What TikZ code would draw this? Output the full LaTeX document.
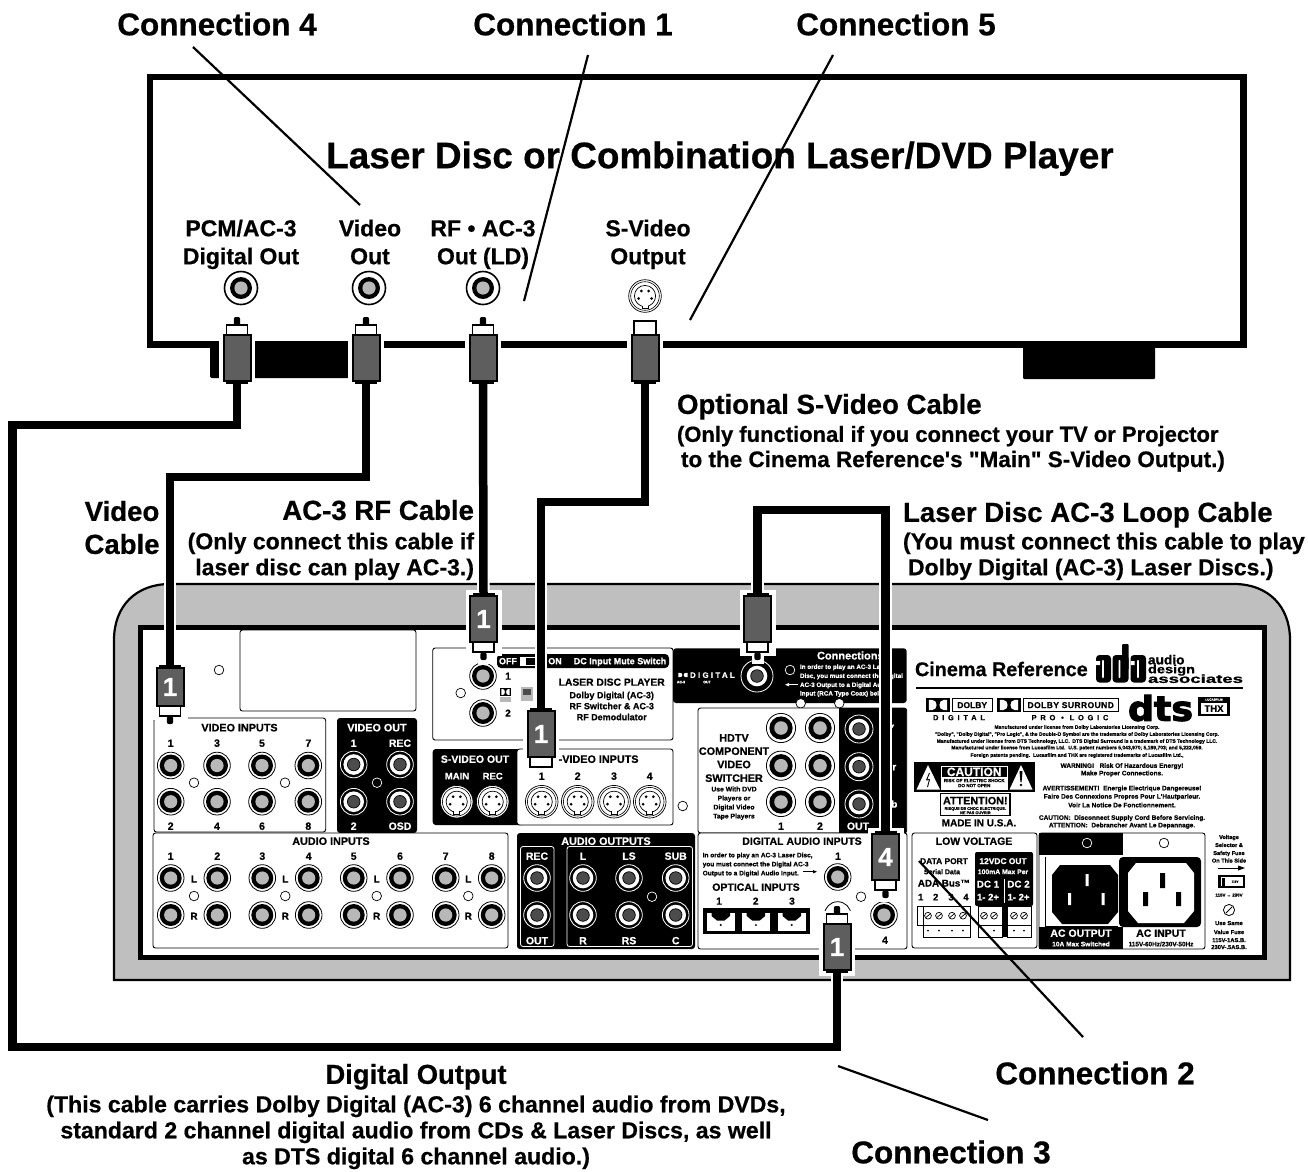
\documentclass[tikz,border=0pt]{standalone}
\usepackage{fontspec}
\usepackage{graphicx}
\setmainfont{Liberation Sans}
\newfontfamily\lib{Liberation Sans}[BoldFeatures={FakeBold=0.6}]
\newfontfamily\djv{DejaVu Sans}[FakeBold=3]
\newfontfamily\libfat{Liberation Sans Bold}[FakeBold=1]
\usetikzlibrary{calc}
\definecolor{jg}{gray}{0.72}
\definecolor{dg}{gray}{0.3}
\definecolor{pb}{gray}{0.37}
\definecolor{pg}{gray}{0.75}
\newcounter{tn}
\tikzset{
  lbl/.style={inner sep=0pt,outer sep=0pt,text=black,align=center},
  thinbox/.style={draw=black,line width=.9pt,rounded corners=2.5pt,fill=white},
  blk/.style={fill=black,rounded corners=3pt},
  wbox/.style={draw=white,line width=.8pt,rounded corners=2.5pt},
  cable/.style={draw=black,line width=8.5pt,line cap=butt,line join=miter},
  cablehalo/.style={draw=white,line width=12.5pt,line cap=butt,line join=miter,shorten >=4pt,shorten <=4pt},
  pointer/.style={draw=black,line width=2.2pt},
  plugbody/.style={draw=black,line width=2pt,fill=pb,text=white,inner sep=0pt,minimum width=27pt,font=\lib\fontsize{26}{26}\selectfont\bfseries},
}
\newcommand\T[4][]{\stepcounter{tn}\pgfmathsetmacro\thh{0.716*#4}\edef\nn{t\arabic{tn}}\node[lbl,text height=\thh pt,text depth=0pt,#1] (\nn) at (#2) {\lib\fontsize{#4}{#4}\selectfont\bfseries #3};}
% jacks
\newcommand\jackA[1]{\filldraw[fill=white,draw=black,line width=.8pt] (#1) circle (13.3pt);\fill[black] (#1) circle (11pt);\fill[jg] (#1) circle (6.6pt);}
\newcommand\jackH[1]{\filldraw[fill=white,draw=black,line width=.8pt] (#1) circle (14.6pt);\fill[black] (#1) circle (11.6pt);\fill[jg] (#1) circle (6.8pt);}
\newcommand\jackP[1]{\filldraw[fill=white,draw=black,line width=1.6pt] (#1) circle (16.5pt);\fill[black] (#1) circle (11pt);\fill[jg] (#1) circle (6.6pt);}
\newcommand\jackD[2][13.3]{\fill[black] (#2) circle (#1pt);\draw[white,line width=.8pt] (#2) circle (#1pt);\fill[white] (#2) circle (10.3pt);\filldraw[fill=dg,draw=black,line width=.7pt] (#2) circle (6.3pt);}
\newcommand\hole[1]{\filldraw[fill=white,draw=black,line width=.7pt] (#1) circle (4.8pt);}
\newcommand\holeW[1]{\filldraw[fill=black,draw=white,line width=.7pt] (#1) circle (4.8pt);}
\newcommand\svid[1]{\begin{scope}[shift={(#1)}]
 \filldraw[fill=white,draw=black,line width=.7pt] (0,0) circle (16.3pt);
 \draw[black,line width=.6pt] (0,0) circle (14.3pt);
 \draw[black,line width=.7pt] (0,0) circle (10.6pt);
 \fill[white] (-3,8) rectangle (3,12);
 \draw[black,line width=.7pt] (-3,9.6) -- (-3,12.8) -- (3,12.8) -- (3,9.6);
 \fill (-3.6,-5) circle (1.5pt) (3.6,-5) circle (1.5pt) (-6.5,2.5) circle (1.5pt) (6.5,2.5) circle (1.5pt);
 \end{scope}}
% plug with the cable coming from above, tip down
\newcommand\plugD[5]{\begin{scope}[shift={(#2,#3)}]
 \fill[white] (-18,-6) rectangle (18,#4+13.5);
 \fill[white] (-6,#4+13) rectangle (6,#4+22);
 \fill[black] (-11,-3) rectangle (11,1);
 \node[plugbody,minimum height=#4 pt] (#1) at (0,#4/2) {#5};
 \filldraw[fill=white,draw=black,line width=1.5pt] (-10.5,#4) rectangle (10.5,#4+10);
 \fill[black,rounded corners=2pt] (-3.2,#4+10.5) rectangle (3.2,#4+18);
 \end{scope}}
% plug with the cable coming from below, tip up
\newcommand\plugU[5]{\begin{scope}[shift={(#2,#3)}]
 \fill[white] (-18,-13) rectangle (18,#4+6);
 \fill[black] (-11,#4-1) rectangle (11,#4+3);
 \node[plugbody,minimum height=#4 pt] (#1) at (0,#4/2) {#5};
 \filldraw[fill=white,draw=black,line width=1.5pt] (-10.5,-10) rectangle (10.5,0);
 \fill[black,rounded corners=2pt] (-3.2,-18) rectangle (3.2,-9.5);
 \end{scope}}
\newcommand\ddlogo[4]{\fill[black] (#1,#2) rectangle (#1+#3,#2+#4);
 \fill[white] (#1+.12*#3,#2+.14*#4) -- (#1+.26*#3,#2+.14*#4) .. controls (#1+.5*#3,#2+.14*#4) and (#1+.5*#3,#2+.86*#4) .. (#1+.26*#3,#2+.86*#4) -- (#1+.12*#3,#2+.86*#4) -- cycle;
 \fill[white] (#1+.88*#3,#2+.14*#4) -- (#1+.74*#3,#2+.14*#4) .. controls (#1+.5*#3,#2+.14*#4) and (#1+.5*#3,#2+.86*#4) .. (#1+.74*#3,#2+.86*#4) -- (#1+.88*#3,#2+.86*#4) -- cycle;}
\newcommand\screw[1]{\filldraw[fill=white,draw=black,line width=.7pt] (#1) circle (3.4pt);\draw[line width=.7pt] ($(#1)+(-2.4,2)$) -- ($(#1)+(2.4,-2)$);}
\newcommand\optical[1]{\begin{scope}[shift={(#1,913)}]
 \fill[white] (0,0) rectangle (28.5,18);
 \fill[black] (5,0) -- (23.5,0) -- (23.5,3) -- (18,7.5) -- (10.5,7.5) -- (5,3) -- cycle;
 \fill[black] (14.2,12) circle (1.1pt);
 \end{scope}}
\begin{document}
\begin{tikzpicture}[x=1pt,y=-1pt,line cap=butt]
\useasboundingbox (0,0) rectangle (1308,1171);
\fill[white] (0,0) rectangle (1308,1171);
% ---------- laser disc player
\fill[black,rounded corners=2pt] (210,342) rectangle (362,378);
\fill[black,rounded corners=1pt] (1023,344) rectangle (1155,379);
\draw[black,line width=6.5pt,line join=miter] (150,77) rectangle (1243.5,344.5);
\jackP{241,288}\jackP{369,288}\jackP{483,288}
\svid{645,296}
% ---------- receiver body
\path[fill=pg,draw=black,line width=2.2pt] (114,980) -- (114,640) .. controls (114,606) and (136,584) .. (170,584) -- (1234,584) .. controls (1268,584) and (1290,606) .. (1290,640) -- (1290,980) -- cycle;
\filldraw[fill=white,draw=black,line width=5pt] (140.5,627.5) rectangle (1264.5,957);
% blank label area
\draw[thinbox] (240,630) rectangle (416,711);
\hole{219,670}
% video inputs
\draw[thinbox] (154,718) rectangle (325.7,832);
\T{239.5,727.5}{VIDEO INPUTS}{10.8}
\foreach \x/\a/\b in {170.7/1/2,217/3/4,262/5/6,308.3/7/8}{
 \jackA{\x,765.5}\jackA{\x,801.7}
 \T{\x,743}{\a}{10.5}\T{\x,826}{\b}{10.5}}
\hole{194,782.7}\hole{285,782.7}
% video out
\fill[blk] (337,718) rectangle (417,833);
\T[text=white]{377,727.5}{VIDEO OUT}{10.8}
\T[text=white]{353.7,743}{1}{10.5}\T[text=white]{400,743}{REC}{10.5}
\T[text=white]{353.7,826}{2}{10.5}\T[text=white]{400,826}{OSD}{10.5}
\foreach \x in {353.7,400}{\jackD{\x,764.5}\jackD{\x,801.7}}
\holeW{377,782.7}
% laser disc section
\draw[thinbox] (432.7,648) rectangle (673,740);
\jackA{483,676}\jackA{483,713}
\T{508,676}{1}{10}\T{508,713}{2}{10}
\hole{460.7,693}
\fill[black,rounded corners=4pt] (497,654) rectangle (669,668);
\T[text=white]{508,661}{OFF}{9}
\draw[white,line width=1pt] (520.5,657.5) rectangle (535,665.5);
\fill[white] (520.5,657.5) rectangle (526,665.5);
\T[text=white]{555,661}{ON}{9}
\T[text=white]{620,661}{DC Input Mute Switch}{9}
\ddlogo{500}{688}{11}{8}
\fill[jg] (500,696.5) rectangle (511,702);
\fill[jg] (521,687) rectangle (533,701);
\fill[dg] (523,689) rectangle (531,695);
\T{611.7,682}{LASER DISC PLAYER}{10.3}
\T{611.7,695}{Dolby Digital (AC-3)}{9}
\T{611.7,706}{RF Switcher \& AC-3}{9}
\T{611.7,717}{RF Demodulator}{9}
% s-video
\fill[blk] (432.7,749) rectangle (525,825);
\draw[thinbox] (517,749) rectangle (673,825);
\T[text=white]{475,759}{S-VIDEO OUT}{10.5}
\T[text=white]{457,776}{MAIN}{9.5}\T[text=white]{492.7,776}{REC}{9.5}
\svid{456.7,801.7}\svid{492.7,801.7}
\T{595,759}{S-VIDEO INPUTS}{10.8}
\foreach \x/\n in {541.7/1,577.7/2,614/3,649.7/4}{\svid{\x,801.7}\T{\x,776}{\n}{10.5}}
\hole{682.7,806}
% digital out panel
\fill[blk] (673,648.3) rectangle (906.7,703);
\ddlogo{677}{672}{12}{6}
\T[text=white,anchor=west]{690,675}{\addfontfeature{LetterSpace=28}DIGITAL}{8}
\T[text=white]{681,682}{AC-3}{3.5}\T[text=white]{707,682}{OUT}{3.5}
\jackD[16]{757,676}
\T[text=white,anchor=west]{817,655.5}{Connections}{11}
\holeW{790,670}
\foreach \y/\tx in {666.7/In order to play an AC-3 Laser,675.7/Disc{,} you must connect the Digital,684.7/AC-3 Output to a Digital Audio,693.3/Input (RCA Type Coax) below.}
 {\T[text=white,anchor=west]{800,\y}{\tx}{6.3}}
\draw[white,line width=.7pt] (798,684.7) -- (787,684.7);
\fill[white] (785,684.7) -- (789,683) -- (789,686.4) -- cycle;
\hole{800.7,703.3}\hole{839.3,703.3}
% hdtv section
\draw[thinbox] (698,708) rectangle (906.7,833);
\fill[blk] (839.3,708) rectangle (906.7,833);
\fill[black] (839.3,708) rectangle (860,833);
\foreach \y/\tx in {737.7/HDTV/RGB,751/COMPONENT,764.3/VIDEO,778/SWITCHER}{\T{734,\y}{\tx}{10.8}}
\foreach \y/\tx in {789/Use With DVD,798/Players or,807/Digital Video,816/Tape Players}{\T{734,\y}{\tx}{6.8}}
\foreach \x in {781,820}{\jackH{\x,728}\jackH{\x,765.7}\jackH{\x,802}}
\T{781,826}{1}{10.5}\T{820,826}{2}{10.5}
\foreach \y in {729,766.7,804}{\jackD[14]{859,\y}}
\T[text=white]{858,826}{OUT}{10.5}
\T[text=white]{891,728}{Y}{10}\T[text=white]{891,766.7}{Pr}{10}\T[text=white]{891,804}{Pb}{10}
% brand block
\T[anchor=west]{915,669}{Cinema Reference}{19.8}
% ada logo
\fill[black,rounded corners=3.5pt] (1096,655) rectangle (1111,682.5);
\fill[black,rounded corners=3.5pt] (1112.5,655) rectangle (1128.5,682.5);
\fill[black,rounded corners=1pt] (1122,644) rectangle (1128.5,670);
\fill[black,rounded corners=3.5pt] (1130.5,655) rectangle (1146,682.5);
\foreach \x in {1103,1119.5,1138}{\fill[white,rounded corners=.8pt] (\x-.9,660) rectangle (\x+.9,678);}
\fill[white] (1096,661) rectangle (1100,665) (1130.5,661) rectangle (1134.5,665);
\node[lbl,anchor=west] (au1) at (1148,659.7) {\resizebox{36.5pt}{9.5pt}{\libfat audio}};
\node[lbl,anchor=west] (au2) at (1148,670.2) {\resizebox{47pt}{8.5pt}{\libfat design}};
\node[lbl,anchor=west] (au3) at (1148,678.7) {\resizebox{95pt}{8.5pt}{\libfat associates}};
\draw[black,line width=2.8pt] (916,688) -- (1243,688);
\ddlogo{926}{698}{24}{14}
\draw[black,line width=1pt] (952.5,698.5) rectangle (992,711.5);
\T{972.2,705}{DOLBY}{8.5}
\T{959,717.5}{\addfontfeature{LetterSpace=50}DIGITAL}{7.5}
\ddlogo{997}{698}{24}{14}
\draw[black,line width=1pt] (1023.5,698.5) rectangle (1118,711.5);
\T{1070.7,705}{\addfontfeature{LetterSpace=5}DOLBY SURROUND}{8.5}
\T{1070,717.5}{\addfontfeature{LetterSpace=50}PRO • LOGIC}{7.5}
\node[lbl] (dtslogo) at (1160.5,708) {\resizebox{65pt}{26pt}{\djv\bfseries dts}};
\fill[black] (1198,697) rectangle (1230,716);
\T[text=white]{1214,699.5}{LUCASFILM}{3}
\fill[white] (1201,703) rectangle (1227,714);
\T{1214,708.5}{THX}{9.5}
\foreach \y/\tx in {727/{Manufactured under license from Dolby Laboratories Licensing Corp.},734/{"Dolby", "Dolby Digital", "Pro Logic", \& the Double-D Symbol are the trademarks of Dolby Laboratories Licensing Corp.},741/{Manufactured under license from DTS Technology, LLC.\ \ DTS Digital Surround is a trademark of DTS Technology LLC.},747.5/{Manufactured under license from Lucasfilm Ltd.\ \ U.S. patent numbers 5,043,970; 5,189,703; and 5,222,059.},755/{Foreign patents pending.\ \ Lucasfilm and THX are registered trademarks of Lucasfilm Ltd.,}}
 {\T{1077,\y}{\tx}{5}}
% caution
\fill[black] (914,762) rectangle (1035,792);
\fill[white] (928,765) -- (940,789.5) -- (916.5,789.5) -- cycle;
\fill[white] (1021,765) -- (1032.5,789.5) -- (1009.5,789.5) -- cycle;
\draw[black,line width=.9pt,line join=bevel] (929.5,773) -- (926.5,780) -- (929.5,779.5) -- (927.5,787);
\fill[black] (1019.5,771) -- (1022.5,771) -- (1021.6,782) -- (1020.4,782) -- cycle;
\fill[black] (1021,785) circle (1.3pt);
\fill[white] (941,765.5) rectangle (1007.5,789.5);
\fill[black] (942,766.5) rectangle (1006.5,777);
\T[text=white]{974.2,771.7}{CAUTION}{12}
\T{974.2,780.5}{RISK OF ELECTRIC SHOCK}{4.6}
\T{974.2,785.5}{DO NOT OPEN}{4.6}
\draw[black,line width=1.3pt] (940.5,793.5) rectangle (1010,815.5);
\T{975.3,800.5}{ATTENTION!}{10.8}
\T{975.3,808.5}{RISQUE DE CHOC ELECTRIQUE.}{3.9}
\T{975.3,812.7}{NE PAS OUVRIR}{3.9}
\T{979,822.7}{MADE IN U.S.A.}{10}
\foreach \y/\tx in {765.5/{WARNING!\ \ \ Risk Of Hazardous Energy!},773/Make Proper Connections.,788/{AVERTISSEMENT!\ \ Energie Electrique Dangereuse!},796.3/{Faire Des Connexions Propres Pour L'Hautparleur.},805/Voir La Notice De Fonctionnement.,817.5/{CAUTION:\ \ Disconnect Supply Cord Before Servicing.},825/{ATTENTION:\ \ Debrancher Avant Le Depannage.}}
 {\T{1122,\y}{\tx}{6.5}}
% audio inputs
\draw[thinbox] (153,833) rectangle (508,948);
\T{331,841}{AUDIO INPUTS}{10.8}
\foreach \x/\n in {170.7/1,217.3/2,262.3/3,308.7/4,353.7/5,400/6,445.7/7,491.7/8}{
 \T{\x,856}{\n}{10.5}\jackA{\x,878}\jackA{\x,915}}
\foreach \x in {194,285.3,376.7,468.3}{\T{\x,879}{L}{10}\T{\x,916}{R}{10}\hole{\x,896}}
% audio outputs
\fill[blk] (517,833) rectangle (695,949);
\T[text=white]{606,841}{AUDIO OUTPUTS}{10.8}
\draw[wbox] (520.5,846.5) rectangle (554,946.5);
\draw[wbox] (567,846.5) rectangle (692.5,946.5);
\T[text=white]{537,856}{REC}{10.5}\T[text=white]{537,940.5}{OUT}{10.5}
\jackD{537,878}\jackD{537,915}
\foreach \x/\a/\b in {583/L/R,629/LS/RS,675.7/SUB/C}{\T[text=white]{\x,856}{\a}{10.5}\T[text=white]{\x,940.5}{\b}{10.5}\jackD{\x,878}\jackD{\x,915}}
\holeW{652,896.7}
% digital audio inputs
\draw[thinbox] (698,833) rectangle (907,949);
\T{802,841}{DIGITAL AUDIO INPUTS}{10.5}
\T[anchor=west]{702.7,855}{In order to play an AC-3 Laser Disc,}{6.5}
\T[anchor=west]{702.7,864}{you must connect the Digital AC-3}{6.5}
\T[anchor=west]{702.7,873}{Output to a Digital Audio Input.}{6.5}
\draw[black,line width=.7pt] (803,871.7) -- (815,871.7);
\fill[black] (817,871.7) -- (813,870) -- (813,873.4) -- cycle;
\T{838,856}{1}{10.5}\jackA{837.7,877}
\hole{861,896.7}
\T{756,887}{OPTICAL INPUTS}{10.5}
\foreach \x/\n in {719/1,755.7/2,792/3}{\T{\x,901}{\n}{10}}
\fill[black] (702.7,908) rectangle (810,934);
\optical{706.5}\optical{741.7}\optical{777.5}
\filldraw[fill=white,draw=black,line width=.8pt] (837.7,915) circle (13.3pt);
\jackA{884,915}\T{885,940}{4}{10.5}
% low voltage
\draw[thinbox] (912,833) rectangle (1037,948);
\T{974,841}{LOW VOLTAGE}{10.5}
\T{944,861}{DATA PORT}{8.4}
\T{942,871.7}{Serial Data}{7}
\T{944,883}{ADA Bus™}{9.8}
\foreach \x/\n in {920.7/1,935.7/2,951/3,966/4}{\T{\x,897}{\n}{9.5}}
\fill[black,rounded corners=2pt] (975,852) rectangle (1033,906);
\T[text=white]{1003,861}{12VDC OUT}{8.4}
\T[text=white]{1003,871.7}{100mA Max Per}{6.8}
\T[text=white]{988,884}{DC 1}{9.8}\T[text=white]{1018.5,884}{DC 2}{9.8}
\T[text=white]{988,897}{1- 2+}{9.5}\T[text=white]{1018.5,897}{1- 2+}{9.5}
\draw[white,line width=.9pt] (1004,879) -- (1004,903);
\draw[black,line width=.8pt] (917,906) rectangle (970,925);
\draw[black,line width=1pt] (923,906) rectangle (970,937) (923,925) -- (970,925);
\draw[black,line width=1pt] (978,906) rectangle (1002,937) (978,925) -- (1002,925);
\draw[black,line width=1pt] (1007,906) rectangle (1031.5,937) (1007,925) -- (1031.5,925);
\fill[black] (1002,906) rectangle (1007,937);
\foreach \x in {928,939,952,963,984,994,1014,1024}{\screw{\x,915.7}}
\foreach \x in {928,939,952,963,984,994,1014,1024}{\fill[black] (\x,930.5) circle (1pt);}
% AC section
\draw[thinbox] (1039,833) rectangle (1205,949);
\fill[black] (1039,833) rectangle (1123,855);
\fill[black] (1039,927) rectangle (1123,949);
\holeW{1087,843}\hole{1164,843}
\draw[black,line width=.7pt] (1045,857) -- (1045,926) -- (1118,926);
\fill[black] (1060,865) -- (1110,865) -- (1118,875) -- (1118,912) -- (1108,924) -- (1062,924) -- (1052,912) -- (1052,875) -- cycle;
\fill[white] (1085.5,874) rectangle (1088.5,886) (1068,893) rectangle (1071,905) (1101.5,893) rectangle (1104.5,905);
\fill[black,rounded corners=4pt] (1119,857) rectangle (1201,927);
\fill[white] (1136,863) -- (1186,863) -- (1194,873) -- (1194,911) -- (1184,923) -- (1138,923) -- (1128,911) -- (1128,873) -- cycle;
\fill[black] (1160,873) rectangle (1165,888) (1143,892) rectangle (1148,906) (1176,892) rectangle (1181,906);
\T[text=white]{1081,933}{AC OUTPUT}{10.5}
\T[text=white]{1081,944}{10A Max Switched}{6.6}
\T{1161,933}{AC INPUT}{10.5}
\T{1161,944}{115V-60Hz/230V-50Hz}{6.4}
% voltage
\foreach \y/\tx in {837/Voltage,845/Selector \&,853/Safety Fuse,860.5/On This Side}{\T{1229,\y}{\tx}{5.6}}
\draw[black,line width=1pt] (1218,868) -- (1240,868);
\fill[black] (1245,868) -- (1238,865.5) -- (1238,870.5) -- cycle;
\fill[black] (1218,875) rectangle (1245,888);
\fill[white] (1221,877) rectangle (1243,886);
\fill[black] (1222,877.5) rectangle (1225,885.5);
\T{1235,881.5}{115V}{3}
\T{1229,895}{115V ↔ 230V}{4.4}
\filldraw[fill=white,draw=black,line width=.8pt] (1229,910) circle (5.6pt);
\draw[black,line width=.8pt] (1226,913) -- (1232,907);
\foreach \y/\tx in {923/Use Same,932/Value Fuse,940/115V-1AS.B.,947/230V-.5AS.B.}{\T{1229,\y}{\tx}{5.8}}
% ---------- plugs
\plugD{pVideoIn}{170}{668}{38}{1}
\plugD{pRF}{483.5}{596}{46}{1}
% s-video input plug (no centre pin)
\begin{scope}[shift={(541,711)}]
 \fill[white] (-18,-6) rectangle (18,59);
 \fill[black] (-11,-3) rectangle (11,1);
 \node[plugbody,minimum height=46pt] (pSVid) at (0,23) {1};
 \filldraw[fill=white,draw=black,line width=1.5pt] (-11,46) rectangle (11,56);
\end{scope}
\plugD{pLoop}{757.5}{596}{46}{}
\plugD{pFour}{885.5}{834}{46}{4}
\plugU{pDig}{837}{924}{46}{1}
\plugU{pPCM}{237}{335}{46}{}
\plugU{pVid}{366}{335}{46}{}
\plugU{pRFout}{483}{335}{46}{}
% s-video output plug
\begin{scope}[shift={(645,335)}]
 \fill[white] (-18,-19) rectangle (18,52);
 \fill[black] (-11,45) rectangle (11,49);
 \node[plugbody,minimum height=46pt] (pSout) at (0,23) {};
 \filldraw[fill=white,draw=black,line width=1.5pt] (-11,-14) rectangle (11,0);
\end{scope}
% ---------- connectors
\coordinate (cA) at (12.5,425);
\coordinate (cB) at (12.5,1047);
\coordinate (cV) at (270,477);
\coordinate (cS) at (600,502);
\coordinate (cL) at (820,510);
\draw[cablehalo] (pPCM.south) |- (cA) -- (cB) -| (pDig.south);
\draw[cable] (pPCM.south) |- (cA) -- (cB) -| (pDig.south);
\draw[cablehalo] (pVid.south) |- (cV) -| (pVideoIn.north);
\draw[cable] (pVid.south) |- (cV) -| (pVideoIn.north);
\draw[cablehalo] (pRFout.south) -- (pRF.north);
\draw[cable] (pRFout.south) -- (pRF.north);
\draw[cablehalo] (pSout.south) |- (cS) -| (pSVid.north);
\draw[cable] (pSout.south) |- (cS) -| (pSVid.north);
\draw[cablehalo] (pLoop.north) |- (cL) -| (pFour.north);
\draw[cable] (pLoop.north) |- (cL) -| (pFour.north);
% ---------- big labels
\T{217,24}{Connection 4}{31.5}
\T{573,24}{Connection 1}{31.5}
\T{896,24}{Connection 5}{31.5}
\T{1095,1073}{Connection 2}{31.5}
\T{951,1152}{Connection 3}{31.5}
\T{720,155}{Laser Disc or Combination Laser/DVD Player}{36.9}
\T{241,228}{PCM/AC-3}{23}\T{241,256}{Digital Out}{23}
\T{370,228}{Video}{23}\T{370,256}{Out}{23}
\T{483,228}{RF • AC-3}{23}\T{483,256}{Out (LD)}{23}
\T{648,228}{S-Video}{23}\T{648,256}{Output}{23}
\T[anchor=west]{677,404}{Optional S-Video Cable}{27.6}
\T[anchor=west]{677,434}{(Only functional if you connect your TV or Projector}{22}
\T[anchor=west]{681,459}{to the Cinema Reference's "Main" S-Video Output.)}{22.5}
\T[anchor=west]{903,512}{Laser Disc AC-3 Loop Cable}{27.6}
\T[anchor=west]{903,541}{(You must connect this cable to play}{23.2}
\T[anchor=west]{908,567}{Dolby Digital (AC-3) Laser Discs.)}{23}
\T{122,511}{Video}{27.6}\T{122,544}{Cable}{27.6}
\T[anchor=east]{474,510}{AC-3 RF Cable}{27.6}
\T[anchor=east]{474,541}{(Only connect this cable if}{23}
\T[anchor=east]{474,567}{laser disc can play AC-3.)}{23}
\T{416,1074}{Digital Output}{27.4}
\T{416,1104}{(This cable carries Dolby Digital (AC-3) 6 channel audio from DVDs,}{23.1}
\T{416,1130}{standard 2 channel digital audio from CDs \& Laser Discs, as well}{23.1}
\T{416,1156}{as DTS digital 6 channel audio.)}{23.1}
% ---------- pointer lines
\coordinate (a4) at (193,47);\coordinate (b4) at (360,205);
\coordinate (a1) at (588,55);\coordinate (b1) at (524,301);
\coordinate (a5) at (833,55);\coordinate (b5) at (690,320);
\coordinate (a2) at (1083,1037);\coordinate (b2) at (919,861);
\coordinate (a3) at (988,1120);\coordinate (b3) at (838,1066);
\draw[pointer] (a4) -- (b4);
\draw[pointer] (a1) -- (b1);
\draw[pointer] (a5) -- (b5);
\draw[pointer] (a2) -- (b2);
\draw[pointer] (a3) -- (b3);
\end{tikzpicture}
\end{document}
